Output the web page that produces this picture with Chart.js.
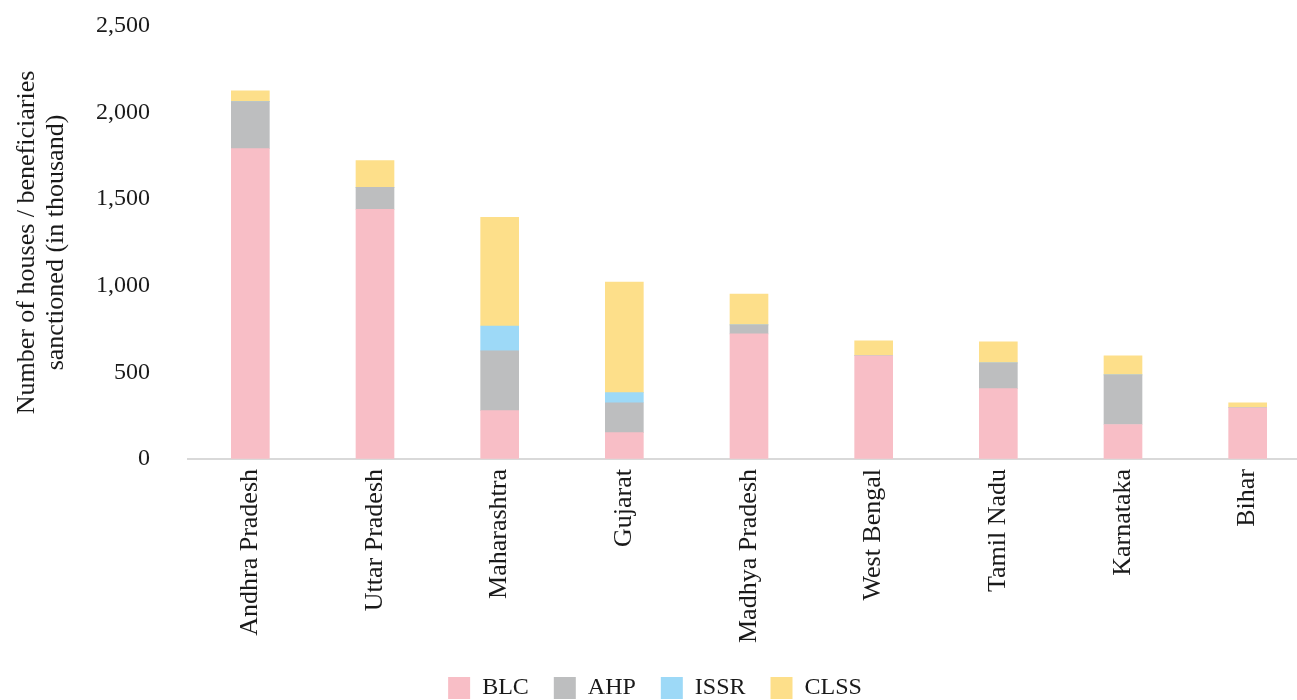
<!DOCTYPE html>
<html>
<head>
<meta charset="utf-8">
<script src="https://cdn.jsdelivr.net/npm/chart.js@4.4.0/dist/chart.umd.min.js"></script>
<style>
  html, body { margin: 0; padding: 0; background: #fff; overflow: hidden; }
  #wrap { width: 1310px; height: 710px; }
</style>
</head>
<body>
<div id="wrap"><canvas id="myChart" width="1310" height="710"></canvas></div>
<script>
const states = ['Andhra Pradesh', 'Uttar Pradesh', 'Maharashtra', 'Gujarat', 'Madhya Pradesh',
                'West Bengal', 'Tamil Nadu', 'Karnataka', 'Bihar'];
const blc  = [1792, 1441, 279, 152, 722, 596, 406, 199, 296];
const ahp  = [271, 127, 345, 173, 52, 0, 149, 287, 0];
const issr = [0, 0, 144, 58, 0, 0, 0, 0, 0];
const clss = [63, 155, 627, 638, 178, 86, 121, 110, 29];
const yTicks = [0, 500, 1000, 1500, 2000, 2500];

const serif = "'Liberation Serif', 'Times New Roman', serif";
Chart.defaults.font.family = serif;
Chart.defaults.color = '#1a1a1a';

const ctx = document.getElementById('myChart');
const myChart = new Chart(ctx, {
    type: 'bar',
    data: {
        labels: states,
        datasets: [
            { label: 'BLC',  data: blc,  backgroundColor: '#f8bec6' },
            { label: 'AHP',  data: ahp,  backgroundColor: '#bdbebf' },
            { label: 'ISSR', data: issr, backgroundColor: '#9dd9f7' },
            { label: 'CLSS', data: clss, backgroundColor: '#fddf8a' }
        ]
    },
    options: {
        responsive: false,
        animation: false,
        layout: { padding: { top: 26, left: 0, right: 0, bottom: 0 } },
        datasets: { bar: { barThickness: 38, borderWidth: 0 } },
        scales: {
            x: {
                stacked: true,
                grid: { display: false, drawTicks: false },
                border: { display: true, color: '#d9d9d9', width: 2 },
                ticks: { minRotation: 90, maxRotation: 90, padding: 10, font: { size: 26 }, color: '#1a1a1a' },
                afterFit: (scale) => { scale.height = 192; }
            },
            y: {
                stacked: true,
                min: 0,
                max: 2500,
                afterBuildTicks: (scale) => { scale.ticks = yTicks.map(v => ({ value: v })); },
                // tick marks kept invisible, only used to push labels away from the axis
                grid: { display: true, drawOnChartArea: false, drawTicks: true, tickLength: 34, tickColor: 'rgba(0,0,0,0)' },
                border: { display: false },
                ticks: {
                    padding: 4,
                    font: { size: 24 },
                    color: '#1a1a1a',
                    callback: (v) => v.toLocaleString('en-US')
                },
                title: {
                    display: true,
                    text: ['Number of houses / beneficiaries', 'sanctioned (in thousand)'],
                    font: { size: 26, lineHeight: 1.1 },
                    color: '#1a1a1a',
                    padding: { top: 13, bottom: 0 }
                },
                afterFit: (scale) => { scale.width = 188; }
            }
        },
        plugins: {
            legend: {
                position: 'bottom',
                labels: {
                    boxWidth: 22,
                    boxHeight: 22,
                    padding: 25,
                    font: { size: 24 },
                    color: '#1a1a1a'
                }
            },
            tooltip: { enabled: false }
        }
    }
});
</script>
</body>
</html>
